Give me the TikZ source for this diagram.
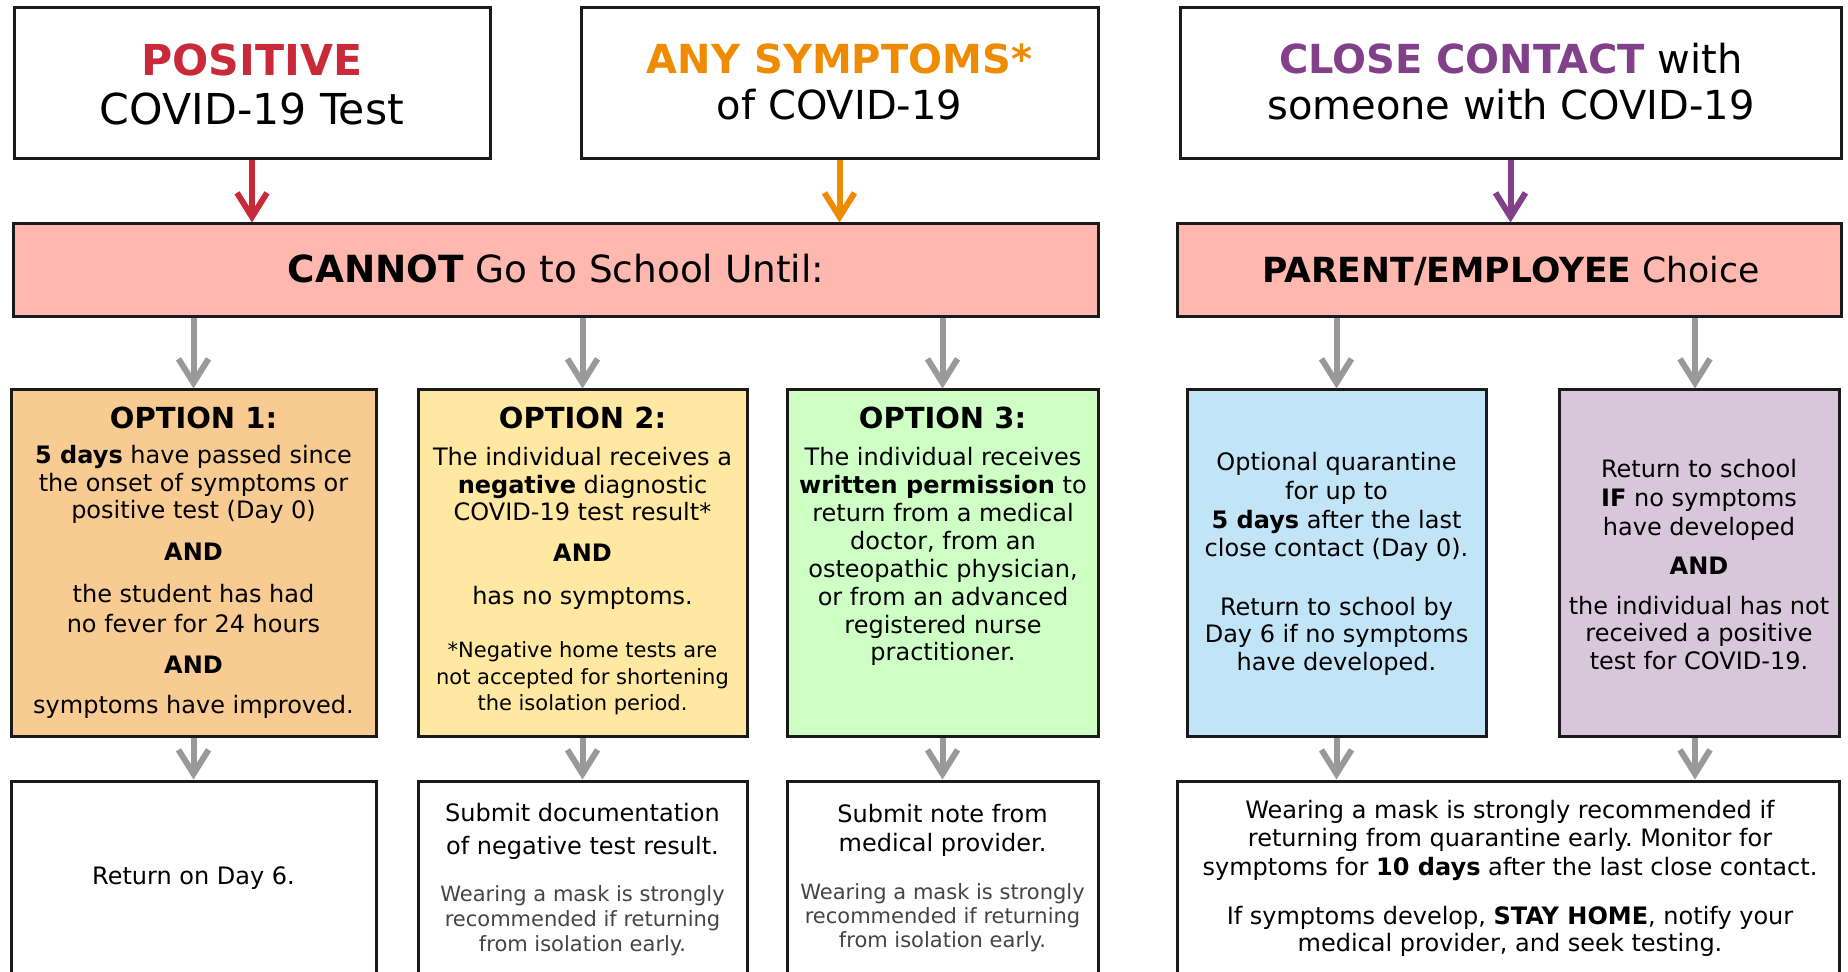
\documentclass[tikz,border=0pt]{standalone}
\usepackage{fontspec}
\setmainfont{DejaVu Sans}
\usetikzlibrary{arrows.meta}
\definecolor{cred}{HTML}{C82A3A}
\definecolor{corange}{HTML}{EF8B00}
\definecolor{cpurple}{HTML}{82408A}
\definecolor{cpink}{HTML}{FFB8B0}
\definecolor{copta}{HTML}{F7CB91}
\definecolor{coptb}{HTML}{FFE8A2}
\definecolor{coptc}{HTML}{CEFFC5}
\definecolor{cblue}{HTML}{C2E4F7}
\definecolor{clilac}{HTML}{D8C6DA}
\definecolor{cgreyarr}{HTML}{999999}
\definecolor{cgreytxt}{HTML}{444444}
\definecolor{cborder}{HTML}{1A1A1A}
\frenchspacing
\newcommand{\myTitleFontA}{\fontsize{21.3}{25}\selectfont}
\newcommand{\myTitleFont}{\fontsize{20}{22.5}\selectfont}
\newcommand{\myBarFont}{\fontsize{18.7}{22}\selectfont}
\newcommand{\myBarFontB}{\fontsize{17.3}{21}\selectfont}
\newcommand{\myHeadFont}{\fontsize{14.5}{17}\selectfont\bfseries}
\tikzset{
  box/.style={draw=cborder, line width=1.5pt, inner sep=0pt, rectangle},
  txt/.style={anchor=base, align=center, inner sep=0pt},
  body/.style={txt, font=\fontsize{12}{#1}\selectfont},
  small/.style={txt, font=\fontsize{10.5}{#1}\selectfont, text=cgreytxt},
  head/.style={txt, font=\myHeadFont},
  andtxt/.style={txt, font=\fontsize{12}{14}\selectfont\bfseries},
  arr/.style={line width=3pt, -{Straight Barb[length=12pt,width=15pt]}},
  grarr/.style={arr, draw=cgreyarr}
}
\begin{document}
\begin{tikzpicture}[x=0.5pt,y=-0.5pt]
\useasboundingbox (0,0) rectangle (1848,972);
\clip (0,0) rectangle (1848,972);
\fill[white] (0,0) rectangle (1848,972);

% top boxes
\node[box, fill=white, minimum width=238pt, minimum height=75.5pt] (pos) at (252,83.5) {};
\node[txt, font=\myTitleFontA\bfseries, text=cred] (posA) at (252,76) {POSITIVE};
\node[txt, font=\myTitleFontA] (posB) at (252,125) {COVID-19 Test};

\node[box, fill=white, minimum width=258.5pt, minimum height=75.5pt] (sym) at (839.5,83.5) {};
\node[txt, font=\myTitleFont\bfseries, text=corange] (symA) at (839.5,74) {ANY SYMPTOMS*};
\node[txt, font=\myTitleFont] (symB) at (839.5,120) {of COVID-19};

\node[box, fill=white, minimum width=330.5pt, minimum height=75.5pt] (close) at (1510.5,83.5) {};
\node[txt, font=\myTitleFont] (closeA) at (1511,74) {\textcolor{cpurple}{\bfseries CLOSE CONTACT} with};
\node[txt, font=\myTitleFont] (closeB) at (1511,120) {someone with COVID-19};

% bars
\node[box, fill=cpink, minimum width=542.5pt, minimum height=46.5pt] (cannot) at (555.5,270.5) {};
\node[txt, font=\myBarFont] (cannotT) at (556,283) {\textbf{CANNOT} Go to School Until:};
\node[box, fill=cpink, minimum width=332pt, minimum height=46.5pt] (parent) at (1509,270.5) {};
\node[txt, font=\myBarFontB] (parentT) at (1511,283) {\textbf{PARENT/EMPLOYEE} Choice};

% option boxes
\node[box, fill=copta, minimum width=182.5pt, minimum height=173.5pt] (opt1) at (193.5,563.5) {};
\node[box, fill=coptb, minimum width=164.5pt, minimum height=173.5pt] (opt2) at (582.5,563.5) {};
\node[box, fill=coptc, minimum width=155.5pt, minimum height=173.5pt] (opt3) at (942.5,563.5) {};
\node[box, fill=cblue, minimum width=149.5pt, minimum height=173.5pt] (quar) at (1336.5,563.5) {};
\node[box, fill=clilac, minimum width=140pt, minimum height=173.5pt] (ret) at (1699,563.5) {};
\coordinate (retx) at (1695,0);

% option 1 text (y = baseline of last line)
\node[head] (o1h) at (193.5,429) {OPTION 1:};
\node[body=13.75] (o1a) at (193.5,519) {\textbf{5 days} have passed since\\the onset of symptoms or\\positive test (Day 0)};
\node[andtxt] (o1and1) at (193.5,561) {AND};
\node[body=15] (o1b) at (193.5,633) {the student has had\\no fever for 24 hours};
\node[andtxt] (o1and2) at (193.5,674) {AND};
\node[body=14] (o1c) at (193.5,714) {symptoms have improved.};

% option 2 text
\node[head] (o2h) at (582.5,429) {OPTION 2:};
\node[body=13.75] (o2a) at (582.5,521) {The individual receives a\\\textbf{negative} diagnostic\\COVID-19 test result*};
\node[andtxt] (o2and) at (582.5,562) {AND};
\node[body=14] (o2b) at (582.5,605) {has no symptoms.};
\node[small=13.25, text=black] (o2c) at (582.5,711) {*Negative home tests are\\not accepted for shortening\\the isolation period.};

% option 3 text
\node[head] (o3h) at (942.5,429) {OPTION 3:};
\node[body=13.95] (o3a) at (943,661) {The individual receives\\\textbf{written permission} to\\return from a medical\\doctor, from an\\osteopathic physician,\\or from an advanced\\registered nurse\\practitioner.};

% quarantine text
\node[body=14.35] (qa) at (1336.5,557) {Optional quarantine\\for up to\\\textbf{5 days} after the last\\close contact (Day 0).};
\node[body=14] (qb) at (1336.5,671) {Return to school by\\Day 6 if no symptoms\\have developed.};

% return text
\node[body=14.5] (ra) at (1699,536) {Return to school\\\textbf{IF} no symptoms\\have developed};
\node[andtxt] (rand) at (1699,575) {AND};
\node[body=14] (rb) at (1699,670) {the individual has not\\received a positive\\test for COVID-19.};

% bottom boxes
\node[box, fill=white, minimum width=182.5pt, minimum height=110pt] (b1) at (193.5,891) {};
\node[box, fill=white, minimum width=164.5pt, minimum height=110pt] (b2) at (582.5,891) {};
\node[box, fill=white, minimum width=155.5pt, minimum height=110pt] (b3) at (942.5,891) {};
\node[box, fill=white, minimum width=331pt, minimum height=110pt] (b4) at (1508,891) {};

\node[body=14] (b1t) at (193.5,884) {Return on Day 6.};
\node[body=16.5] (b2t) at (582.5,854) {Submit documentation\\of negative test result.};
\node[small=12.5] (b2s) at (582.5,951) {Wearing a mask is strongly\\recommended if returning\\from isolation early.};
\node[body=14.5] (b3t) at (942.5,851) {Submit note from\\medical provider.};
\node[small=12] (b3s) at (942.5,947) {Wearing a mask is strongly\\recommended if returning\\from isolation early.};
\node[body=14.25] (b4a) at (1510,875) {Wearing a mask is strongly recommended if\\returning from quarantine early. Monitor for\\symptoms for \textbf{10 days} after the last close contact.};
\node[body=13.5] (b4b) at (1510,951) {If symptoms develop, \textbf{STAY HOME}, notify your\\medical provider, and seek testing.};

% arrows
\draw[arr, draw=cred] (pos.south) -- (pos.south |- cannot.north);
\draw[arr, draw=corange] (sym.south) -- (sym.south |- cannot.north);
\draw[arr, draw=cpurple] (close.south) -- (close.south |- parent.north);

\draw[grarr] (cannot.south -| opt1.north) -- (opt1.north);
\draw[grarr] (cannot.south -| opt2.north) -- (opt2.north);
\draw[grarr] (cannot.south -| opt3.north) -- (opt3.north);
\draw[grarr] (parent.south -| quar.north) -- (quar.north);
\draw[grarr] (parent.south -| retx) -- (ret.north -| retx);

\draw[grarr] (opt1.south) -- (b1.north);
\draw[grarr] (opt2.south) -- (b2.north);
\draw[grarr] (opt3.south) -- (b3.north);
\draw[grarr] (quar.south) -- (quar.south |- b4.north);
\draw[grarr] (ret.south -| retx) -- (b4.north -| retx);
\end{tikzpicture}
\end{document}
